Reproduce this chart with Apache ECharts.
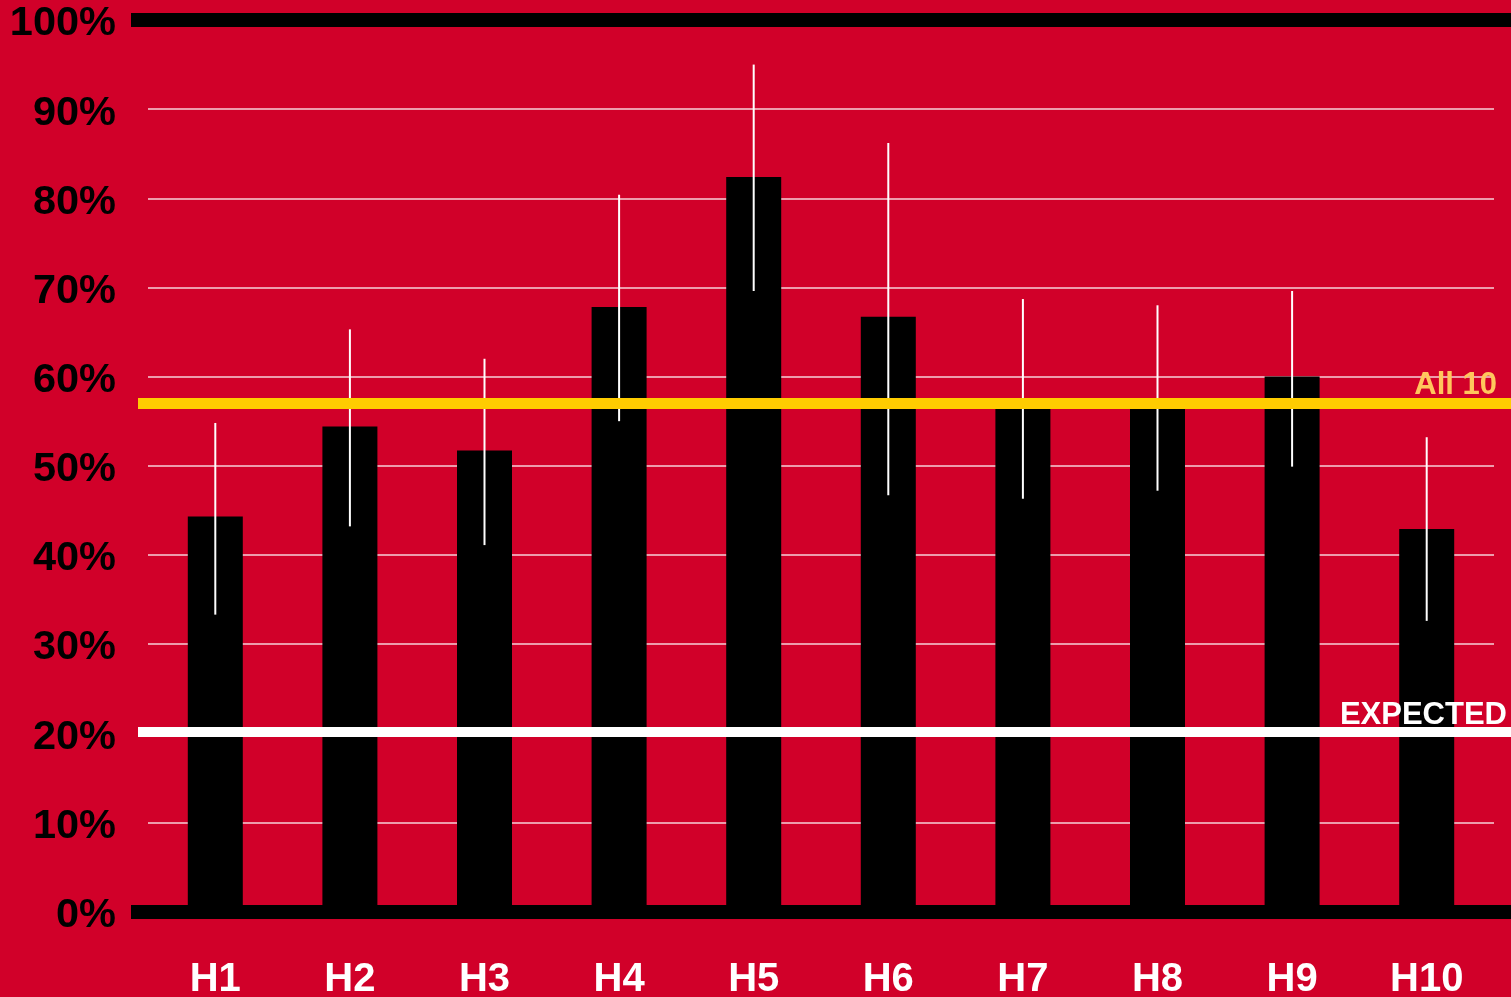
<!DOCTYPE html>
<html>
<head>
<meta charset="utf-8">
<script src="https://cdn.jsdelivr.net/npm/echarts@6/dist/echarts.min.js"></script>
<style>
html,body{margin:0;padding:0;background:#d10029;}
#chart{width:1511px;height:997px;}
</style>
</head>
<body>
<div id="chart"></div>
<script>
var categories = ['H1','H2','H3','H4','H5','H6','H7','H8','H9','H10'];
var values = [44.3, 54.4, 51.7, 67.8, 82.4, 66.7, 57.0, 57.0, 60.0, 42.9];
var errLow = [33.3, 43.2, 41.1, 55.0, 69.6, 46.7, 46.3, 47.2, 49.9, 32.6];
var errHigh = [54.8, 65.3, 62.0, 80.4, 95.0, 86.2, 68.7, 68.0, 69.6, 53.2];
var yTicks = [0, 10, 20, 30, 40, 50, 60, 70, 80, 90, 100];
var all10Value = 57.06;
var expectedValue = 20.2;
var all10Label = 'All 10';
var expectedLabel = 'EXPECTED';

var FONT = '"Liberation Sans", Arial, sans-serif';
var chart = echarts.init(document.getElementById('chart'), null, {renderer:'canvas'});

var errData = categories.map(function(c, i){ return [i, errLow[i], errHigh[i]]; });

var option = {
  backgroundColor: '#d10029',
  animation: false,
  grid: [
    {left:148, right:17, top:20, bottom:85.5, outerBoundsMode:'none', containLabel:false},
    {left:131, right:0, top:20, bottom:85.5, outerBoundsMode:'none', containLabel:false},
    {left:138, right:0, top:20, bottom:85.5, outerBoundsMode:'none', containLabel:false}
  ],
  xAxis: [
    {type:'category', gridIndex:0, data:categories,
     axisLine:{show:false}, axisTick:{show:false},
     axisLabel:{color:'#ffffff', fontSize:40, fontWeight:'bold', fontFamily:FONT, margin:48}},
    {type:'value', gridIndex:1, min:0, max:1, show:false},
    {type:'value', gridIndex:2, min:0, max:1, show:false}
  ],
  yAxis: [
    {type:'value', gridIndex:0, min:yTicks[0], max:yTicks[yTicks.length-1], interval:10,
     axisLine:{show:false}, axisTick:{show:false},
     axisLabel:{color:'#000000', fontSize:41.5, fontWeight:'bold', fontFamily:FONT, margin:32,
       verticalAlign:'middle',
       formatter:function(v){ return '{p|' + v + '%}'; },
       rich:{p:{color:'#000000', fontSize:41.5, fontWeight:'bold', fontFamily:FONT,
                padding:[8,0,0,0]}}},
     splitLine:{show:true, lineStyle:{color:'rgba(255,255,255,0.82)', width:1.5}}},
    {type:'value', gridIndex:1, min:0, max:100, show:false},
    {type:'value', gridIndex:2, min:0, max:100, show:false}
  ],
  series: [
    {type:'bar', xAxisIndex:0, yAxisIndex:0, data:values, barWidth:55,
     itemStyle:{color:'#000000'}, z:2},
    {type:'line', xAxisIndex:2, yAxisIndex:2, data:[], z:3, silent:true,
     markLine:{silent:true, symbol:['none','none'],
       data:[
         {yAxis:all10Value, lineStyle:{color:'#ffcc00', width:11, type:'solid'},
          label:{show:true, position:'insideEndTop', formatter:all10Label, color:'#ffc65c',
                 fontSize:31, fontWeight:'bold', fontFamily:FONT, distance:[14, 2]}},
         {yAxis:expectedValue, lineStyle:{color:'#ffffff', width:10, type:'solid'},
          label:{show:true, position:'insideEndTop', formatter:expectedLabel, color:'#ffffff',
                 fontSize:31, fontWeight:'bold', fontFamily:FONT, distance:[4, 0]}}
       ]}},
    {type:'custom', xAxisIndex:0, yAxisIndex:0, data:errData, z:4, silent:true,
     renderItem:function(params, api){
       var x = api.value(0);
       var lo = api.coord([x, api.value(1)]);
       var hi = api.coord([x, api.value(2)]);
       return {type:'line', shape:{x1:lo[0], y1:lo[1], x2:hi[0], y2:hi[1]},
               style:{stroke:'#ffffff', lineWidth:2}};
     }},
    {type:'line', xAxisIndex:1, yAxisIndex:1, data:[], z:5, silent:true,
     markLine:{silent:true, symbol:['none','none'], label:{show:false},
       lineStyle:{color:'#000000', width:14, type:'solid'},
       data:[{yAxis:yTicks[0]}, {yAxis:yTicks[yTicks.length-1]}]}}
  ]
};
chart.setOption(option);
</script>
</body>
</html>
